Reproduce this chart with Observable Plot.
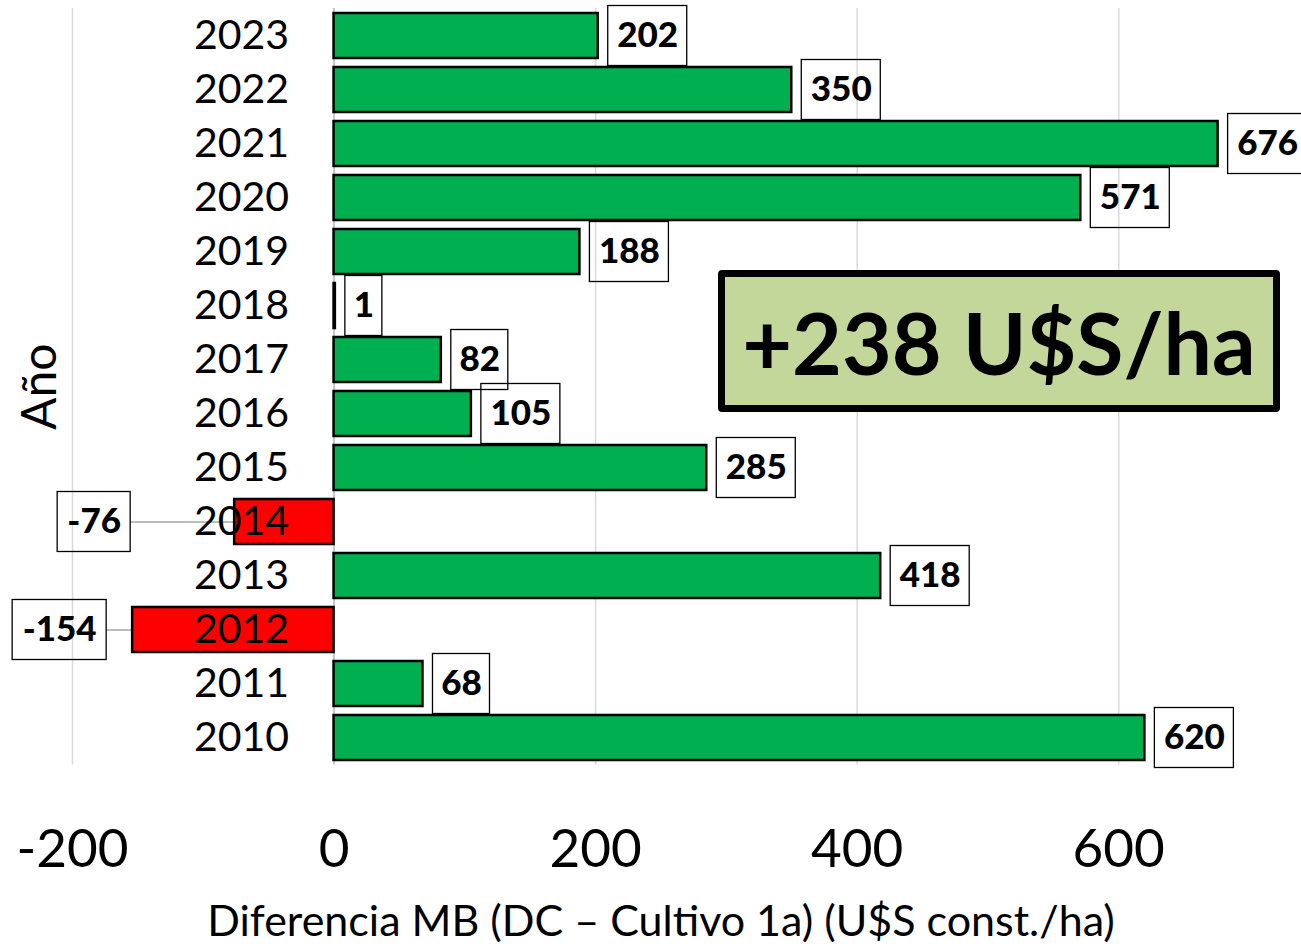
<!DOCTYPE html>
<html><head><meta charset="utf-8">
<script src="https://cdn.jsdelivr.net/npm/d3@7"></script>
<script src="https://cdn.jsdelivr.net/npm/@observablehq/plot@0.6"></script>
<style>
body{margin:0;background:#fff;}
#wrap{position:relative;width:1301px;height:949px;font-family:Lato,"Open Sans",sans-serif;}
#badge{position:absolute;left:718px;top:270px;width:562px;height:142px;box-sizing:border-box;border:7px solid #000;border-radius:4px;background:#c4d79b;display:flex;align-items:center;justify-content:center;font-weight:bold;font-size:86px;color:#000;white-space:nowrap;}
</style></head><body>
<div id="wrap"><div id="chart"></div><div id="badge"></div></div>
<script>
const years = [2023, 2022, 2021, 2020, 2019, 2018, 2017, 2016, 2015, 2014, 2013, 2012, 2011, 2010];
const values = [202, 350, 676, 571, 188, 1, 82, 105, 285, -76, 418, -154, 68, 620];
const xTicks = [-200, 0, 200, 400, 600];
const yAxisTitle = "Año";
const xAxisTitle = "Diferencia MB (DC – Cultivo 1a) (U$S const./ha)";
const summaryLabel = "+238 U$S/ha";

document.getElementById("badge").textContent = summaryLabel;

const data = years.map((y, i) => ({year: String(y), value: values[i], label: String(values[i])}));
const pos = data.filter(d => d.value >= 0);
const neg = data.filter(d => d.value < 0);

// label box widths (px) by label text length, and leader offsets for negatives
const boxW = {1: 37, 2: 57, 3: 79};
const negStyle = {"-76": {w: 73, off: 104}, "-154": {w: 94, off: 26}};

const labelFont = {fontSize: 35, fontWeight: 900, fill: "#000"};
const labelMarks = [];
for (const [len, rows] of d3.group(pos, d => d.label.length)) {
  const w = boxW[len];
  labelMarks.push(Plot.barX(rows, {x1: "value", x2: "value", y: "year", insetLeft: 10, insetRight: -(10 + w), insetTop: -7.5, insetBottom: -7.5, fill: "none", stroke: "#000", strokeWidth: 1.3}));
  labelMarks.push(Plot.text(rows, {x: "value", y: "year", text: "label", dx: 10 + w / 2, textAnchor: "middle", ...labelFont}));
}
const leaderMarks = [];
for (const d of neg) {
  const s = negStyle[d.label];
  leaderMarks.push(Plot.ruleY([d], {x1: "value", x2: "value", y: "year", insetLeft: -s.off, stroke: "#a6a6a6", strokeWidth: 1.5}));
  labelMarks.push(Plot.barX([d], {x1: "value", x2: "value", y: "year", insetLeft: -(s.off + s.w), insetRight: s.off, insetTop: -7.5, insetBottom: -7.5, fill: "none", stroke: "#000", strokeWidth: 1.3}));
  labelMarks.push(Plot.text([d], {x: "value", y: "year", text: "label", dx: -(s.off + s.w / 2), textAnchor: "middle", ...labelFont}));
}

const chart = Plot.plot({
  width: 1301,
  height: 949,
  marginLeft: 72,
  marginRight: 52,
  marginTop: 8,
  marginBottom: 184.5,
  style: {fontFamily: "Lato, 'Open Sans', sans-serif", color: "#000", background: "#fff", overflow: "visible"},
  x: {domain: [-200, 700]},
  y: {domain: years.map(String), paddingInner: 0.167, paddingOuter: 0.0835, axis: null},
  marks: [
    Plot.ruleX(xTicks, {x: d => d, stroke: "#d9d9d9", strokeWidth: 1.5}),
    Plot.ruleX([0], {x: d => d, stroke: "#bfbfbf", strokeWidth: 1.5}),
    ...leaderMarks,
    Plot.barX(pos, {x: "value", y: "year", fill: "#00b050", stroke: "#000", strokeWidth: 2.5}),
    Plot.barX(neg, {x: "value", y: "year", fill: "#ff0000", stroke: "#000", strokeWidth: 2.5}),
    Plot.text(data, {x: d => 0, y: "year", text: "year", textAnchor: "end", dx: -45, fontSize: 41, fill: "#000"}),
    ...labelMarks,
    Plot.axisX(xTicks, {tickSize: 0, tickPadding: 64, fontSize: 53, tickFormat: d => String(d), label: null}),
    Plot.text([xAxisTitle], {frameAnchor: "bottom", textAnchor: "middle", dy: 171, fontSize: 43, fill: "#000", text: d => d}),
    Plot.text([yAxisTitle], {frameAnchor: "left", textAnchor: "middle", dx: -32, rotate: -90, fontSize: 48, fill: "#000", text: d => d})
  ]
});
document.getElementById("chart").appendChild(chart);
</script>
</body></html>
